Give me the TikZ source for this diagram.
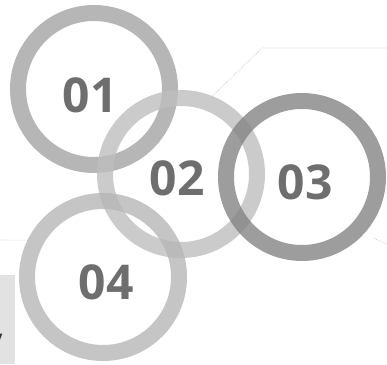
\documentclass[tikz,border=0pt]{standalone}
\usepackage{fontspec}
\setmainfont{Open Sans}
\usetikzlibrary{calc}
\definecolor{ringA}{HTML}{A4A4A4}
\definecolor{ringB}{HTML}{BEBEBE}
\definecolor{ringC}{HTML}{858585}
\definecolor{ringD}{HTML}{B6B6B6}
\definecolor{numtext}{HTML}{6E6E6E}
\definecolor{leader}{HTML}{BDBDBD}
\definecolor{tabfill}{HTML}{E2E2E2}

\begin{document}
\begin{tikzpicture}[x=1pt,y=1pt,
 ring/.style={circle,draw,line width=16pt,minimum size=152pt,inner sep=0pt,draw opacity=.8},
 num/.style={font=\fontsize{48}{48}\selectfont\bfseries,text=numtext,inner sep=0pt},
 leadline/.style={leader,line width=.6pt,densely dotted}]
\useasboundingbox (0,0) rectangle (387,364);
% light tab at the left edge
\fill[tabfill] (0,0) rectangle (15,89);
\node[font=\fontsize{30}{30}\selectfont\bfseries,text=black!80,anchor=base east] (cut) at (6,14) {y};
% four rings
\node[ring,draw=ringA] (r1) at (94,275) {};
\node[ring,draw=ringB] (r2) at (181,190) {};
\node[ring,draw=ringC] (r3) at (302,187) {};
\node[ring,draw=ringD] (r4) at (103,87) {};
\node[num] (n1) at ([shift={(-4,-6)}]r1.center) {01};
\node[num] (n2) at ([shift={(-4,-4)}]r2.center) {02};
\node[num] (n3) at ([shift={(3,-5)}]r3.center) {03};
\node[num] (n4) at ([shift={(3,-5)}]r4.center) {04};
% leader lines
\coordinate (k2) at (262,316);
\coordinate (e2) at (387,316);
\coordinate (e3) at (387,120);
\coordinate (e4) at (0,124);
\draw[leadline] (r2.68) -- (k2) -- (e2);
\draw[leadline] ([shift={(8,-6)}]r3.-41) -- (e3);
\draw[leadline] (r4.154) -- (e4);
\end{tikzpicture}
\end{document}
